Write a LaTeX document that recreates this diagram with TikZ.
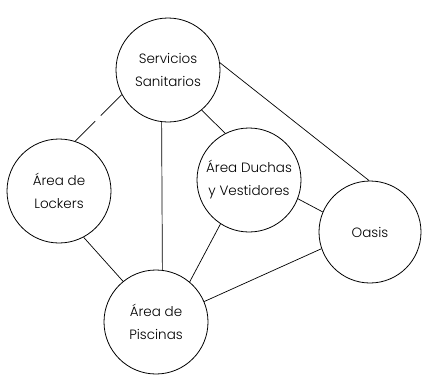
\documentclass[tikz,border=0pt]{standalone}
\usepackage{fontspec}
\IfFontExistsTF{Poppins Light}{\setmainfont{Poppins Light}}{\setmainfont{Poppins}}
\usetikzlibrary{calc}
\begin{document}
\begin{tikzpicture}[x=1pt,y=-1pt,
  area/.style={circle,draw,line width=0.8pt,minimum size=104pt,inner sep=0pt,align=center,
    font=\fontsize{13.5}{23}\selectfont},
  link/.style={line width=0.7pt}]
\useasboundingbox (0,0) rectangle (422,375);
\node[area] (s) at (168,70) {Servicios\\Sanitarios};
\node[area] (l) at (59,191) {Área de\\Lockers};
\node[area] (d) at (249,180) {Área Duchas\\y Vestidores};
\node[area,minimum size=102pt] (o) at (370,232) {Oasis};
\node[area] (p) at (156,322) {Área de\\Piscinas};
\draw[link] (s.208) -- ($(s.208)!0.45!(l.72)$);
\draw[link] ($(s.208)!0.57!(l.72)$) -- (l.72);
\draw[link] (s.263) -- (p.83);
\draw[link] (s.310) -- (d.117);
\draw[link] (s.8) -- (o.91);
\draw[link] (l.298) -- (p.129);
\draw[link] (d.237) -- (p.50);
\draw[link] (d.339) -- (o.157);
\draw[link] (p.23) -- (o.199);
\end{tikzpicture}
\end{document}
